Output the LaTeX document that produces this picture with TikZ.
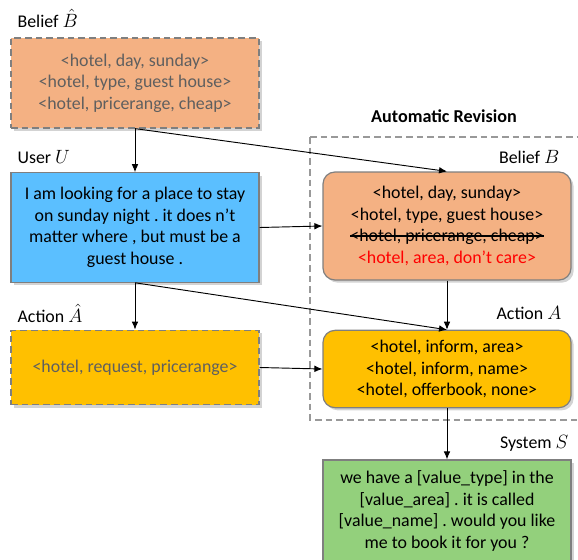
\documentclass[tikz,border=0pt]{standalone}
\usepackage{fontspec}
\setmainfont{Carlito}
\usepackage{xcolor}
\usepackage{tikz}
\usetikzlibrary{arrows.meta,shadows}
\definecolor{edge}{HTML}{7F7F7F}
\definecolor{peach}{HTML}{F4B183}
\definecolor{sky}{HTML}{5BBFFF}
\definecolor{amber}{HTML}{FFC000}
\definecolor{leaf}{HTML}{93D07C}
\definecolor{grey}{HTML}{5F5F5F}
\newcommand\crossout[1]{\setbox0\hbox{#1}\rlap{\rule[0.3em]{\wd0}{0.8pt}}\box0}
\frenchspacing
\tikzset{
  box/.style={draw=edge, line width=0.9pt, align=center, minimum width=186pt,
    font=\fontsize{13.4}{16.2}\selectfont,
    drop shadow={shadow xshift=2pt, shadow yshift=-2pt, opacity=0.35}},
  guess/.style={box, dashed, dash pattern=on 5pt off 3pt, text=grey},
  revised/.style={box, rounded corners=9pt},
  lab/.style={font=\fontsize{13.4}{16}\selectfont, inner sep=1pt},
  link/.style={-{Latex[length=6pt,width=5pt]}, line width=0.7pt},
  frame/.style={draw=edge!80, dashed, dash pattern=on 5pt off 3pt, line width=0.8pt},
}
\begin{document}
\begin{tikzpicture}[x=0.75pt, y=-0.75pt]
  \useasboundingbox (0,0) rectangle (578,560);
  % automatic revision frame
  \draw[frame] (310,137) -- (577,137) (310,137) -- (310,420) -- (577,420);
  \node[lab, font=\bfseries\fontsize{13.6}{16}\selectfont] (rev) at (444,116) {Automatic Revision};

  % left column
  \node[guess, fill=peach, minimum height=67.5pt] (bhat) at (135,83)
    {<hotel, day, sunday>\\<hotel, type, guest house>\\<hotel, pricerange, cheap>};
  \node[box, fill=sky, minimum height=82pt] (user) at (135,227.5)
    {I am looking for a place to stay\\on sunday night . it does n{\char39}t\\matter where , but must be a\\guest house .};
  \node[guess, fill=amber, minimum height=56pt] (ahat) at (135,367.5)
    {<hotel, request, pricerange>};

  % right column
  \node[revised, fill=peach, minimum height=81pt] (bel) at (447,226)
    {<hotel, day, sunday>\\<hotel, type, guest house>\\\crossout{<hotel, pricerange, cheap>}\\\textcolor{red}{<hotel, area, don’t care>}};
  \node[revised, fill=amber, minimum height=58pt] (act) at (447,369)
    {<hotel, inform, area>\\<hotel, inform, name>\\<hotel, offerbook, none>};
  \node[box, fill=leaf, minimum height=76.5pt] (sys) at (447,511)
    {we have a [value\_type] in the\\{}[value\_area] . it is called\\{}[value\_name] . would you like\\me to book it for you ?};

  % labels
  \node[lab, anchor=west] (lbhat) at (16,18) {Belief $\hat{B}$};
  \node[lab, anchor=west] (luser) at (16,157) {User $U$};
  \node[lab, anchor=west] (lahat) at (16,313) {Action $\hat{A}$};
  \node[lab, anchor=east] (lbel) at (561,157) {Belief $B$};
  \node[lab, anchor=east] (lact) at (563,313) {Action $A$};
  \node[lab, anchor=east] (lsys) at (570,443) {System $S$};

  % connectors
  \draw[link] (bhat.south) -- (user.north);
  \draw[link] (bhat.south) -- (bel.north);
  \draw[link] (user.east) -- (bel.west);
  \draw[link] (user.south) -- (ahat.north);
  \draw[link] (user.south) -- (act.north);
  \draw[link] (bel.south) -- (act.north);
  \draw[link] (ahat.east) -- (act.west);
  \draw[link] (act.south) -- (sys.north);
\end{tikzpicture}
\end{document}
